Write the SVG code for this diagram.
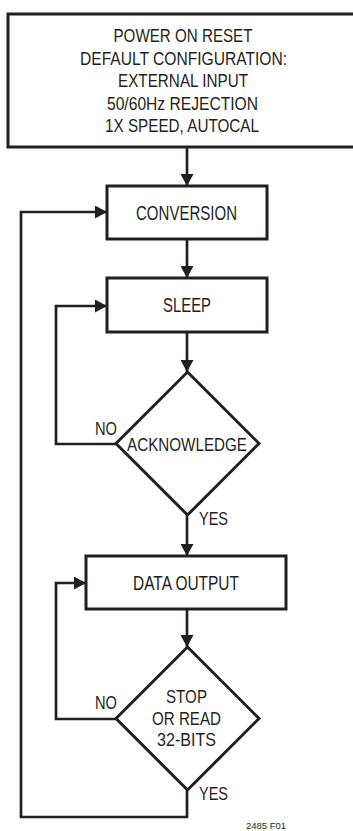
<svg xmlns="http://www.w3.org/2000/svg" width="353" height="831" viewBox="0 0 353 831">
<style>
.box{fill:#fff;stroke:#231f20;stroke-width:3}
.con{fill:none;stroke:#231f20;stroke-width:2.7}
.t{font-family:"Liberation Sans",Arial,sans-serif;fill:#231f20;text-anchor:middle;font-size:19px}
.tb{font-size:21px}
.l{font-family:"Liberation Sans",Arial,sans-serif;fill:#231f20;font-size:19px}
</style>
<defs>
<marker id="ah" markerUnits="userSpaceOnUse" markerWidth="12" markerHeight="13" refX="12" refY="6.5" orient="auto">
<path d="M0,0 L12,6.5 L0,13 z" fill="#231f20"/>
</marker>
</defs>
<rect width="353" height="831" fill="#fff"/>
<g id="connectors">
<path class="con" d="M187,147 V186" marker-end="url(#ah)"/>
<path class="con" d="M187,239 V278" marker-end="url(#ah)"/>
<path class="con" d="M187,332 V372" marker-end="url(#ah)"/>
<path class="con" d="M116,444 H56 V306 H107" marker-end="url(#ah)"/>
<path class="con" d="M187,515 V556" marker-end="url(#ah)"/>
<path class="con" d="M187,609 V647" marker-end="url(#ah)"/>
<path class="con" d="M116,719 H56 V583 H86" marker-end="url(#ah)"/>
<path class="con" d="M187,789 V817 H21 V212 H107" marker-end="url(#ah)"/>
</g>
<g id="start">
<rect class="box" x="8" y="14" width="360" height="133"/>
<text class="t" x="183" y="42" textLength="139" lengthAdjust="spacingAndGlyphs">POWER ON RESET</text>
<text class="t" x="183.5" y="64.5" textLength="207" lengthAdjust="spacingAndGlyphs">DEFAULT CONFIGURATION:</text>
<text class="t" x="183" y="87" textLength="130" lengthAdjust="spacingAndGlyphs">EXTERNAL INPUT</text>
<text class="t" x="182.5" y="109.5" textLength="151" lengthAdjust="spacingAndGlyphs">50/60Hz REJECTION</text>
<text class="t" x="182" y="132" textLength="154" lengthAdjust="spacingAndGlyphs">1X SPEED, AUTOCAL</text>
</g>
<g id="conversion">
<rect class="box" x="107" y="186" width="160" height="53"/>
<text class="t tb" x="186.5" y="220" textLength="101" lengthAdjust="spacingAndGlyphs">CONVERSION</text>
</g>
<g id="sleep">
<rect class="box" x="107" y="278" width="160" height="54"/>
<text class="t tb" x="187" y="312" textLength="48" lengthAdjust="spacingAndGlyphs">SLEEP</text>
</g>
<g id="acknowledge">
<path class="box" d="M187.5,372 L259,443.5 L187.5,515 L116,443.5 z"/>
<text class="t" x="187" y="451" textLength="120" lengthAdjust="spacingAndGlyphs">ACKNOWLEDGE</text>
<text class="l" x="95" y="435" textLength="22" lengthAdjust="spacingAndGlyphs">NO</text>
<text class="l" x="199" y="525" textLength="29" lengthAdjust="spacingAndGlyphs">YES</text>
</g>
<g id="dataoutput">
<rect class="box" x="86" y="556" width="200" height="53"/>
<text class="t tb" x="186" y="590" textLength="106" lengthAdjust="spacingAndGlyphs">DATA OUTPUT</text>
</g>
<g id="stop">
<path class="box" d="M187.5,647 L259,718.5 L187.5,790 L116,718.5 z"/>
<text class="t" x="186.5" y="703" textLength="41" lengthAdjust="spacingAndGlyphs">STOP</text>
<text class="t" x="186.5" y="725" textLength="69" lengthAdjust="spacingAndGlyphs">OR READ</text>
<text class="t" x="186.5" y="746" textLength="59" lengthAdjust="spacingAndGlyphs">32-BITS</text>
<text class="l" x="95" y="709" textLength="22" lengthAdjust="spacingAndGlyphs">NO</text>
<text class="l" x="199" y="800" textLength="29" lengthAdjust="spacingAndGlyphs">YES</text>
</g>
<text class="l" x="246" y="829" textLength="40" lengthAdjust="spacingAndGlyphs" style="font-size:9px">2485 F01</text>
</svg>
